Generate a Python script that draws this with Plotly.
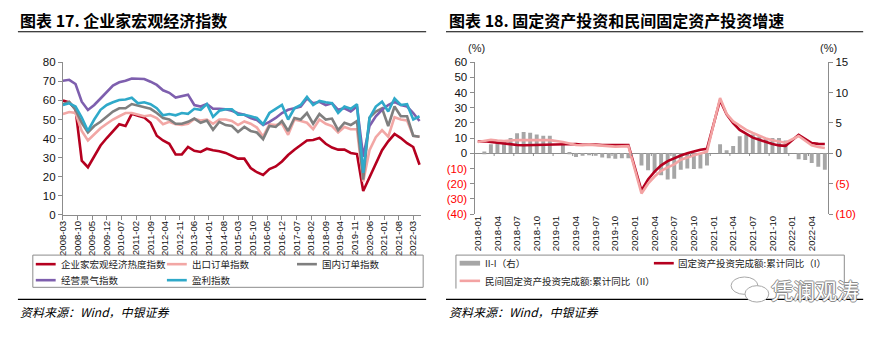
import plotly.graph_objects as go
import pandas as pd

W, H = 888, 337

# ---------------- Left chart: 企业家宏观经济指数 (quarterly) ----------------
quarters = pd.date_range("2008-03-01", "2022-06-01", freq="3MS").strftime("%Y-%m").tolist()

left_names = ["企业家宏观经济热度指数", "出口订单指数", "国内订单指数", "经营景气指数", "盈利指数"]

heat_index = [60, 59, 55.5, 28.5, 25, 30.5, 36.4, 40.3, 44, 47.5,
              46.6, 53, 52, 51, 48.3, 41.5, 39, 37.3, 31.7, 31.7,
              35.6, 33.6, 33, 34.7, 33.9, 33.4, 32.5, 30.8, 29.5, 29.5,
              24.6, 22.4, 21, 24, 25.4, 28, 31.4, 34.2, 36.4, 39,
              39.3, 40.3, 37.3, 35.3, 34.2, 34.2, 32.5, 31.9, 12.6, 19.5,
              27, 33.9, 38.6, 42.4, 40.3, 37.6, 35.6, 26.3]
export_orders = [52.9, 53.9, 53.4, 44, 39, 42.4, 45.4, 47.8, 50, 51.7,
                 53.4, 53.4, 52.5, 51.7, 52.2, 50.8, 47.5, 48.8, 47.5, 47.1,
                 47.8, 50.3, 49.5, 50, 47.8, 50, 50, 49.2, 47.1, 49,
                 47.8, 45.8, 41, 47.5, 47.1, 47.8, 42, 50, 49.2, 48.3,
                 44.9, 50, 47.8, 46.6, 43.2, 46.1, 44.9, 44.9, 17.5, 33.9,
                 40.7, 44.4, 41, 51.2, 50, 49.5, 41.5, 41]
domestic_orders = [58, 59.3, 55, 48.3, 43.2, 46.6, 48.8, 51.7, 54.2, 55.9,
                   55.9, 58.1, 57.3, 56.8, 55.6, 53.4, 50.8, 50, 47.8, 47.8,
                   48.8, 50.5, 48.3, 49.5, 44.6, 48.8, 47.1, 46.6, 43.5, 46.1,
                   44, 43.2, 39.7, 46.6, 46.1, 49.2, 44, 50.8, 50, 53.4,
                   47.8, 52.9, 50, 50.5, 44.4, 48.3, 47.1, 49.2, 18.5, 51,
                   54.2, 55.9, 46.6, 56.8, 51.7, 51.7, 41.5, 41]
business_climate = [70.3, 70.8, 68.6, 59.3, 55, 57.6, 61, 64.4, 67.8, 69.5,
                    70.3, 71.5, 71.5, 71.2, 69.8, 68.1, 65.3, 64, 61.5, 62.4,
                    63, 57.6, 56.8, 58.1, 55.6, 55.6, 55.4, 54.6, 53.3, 52.5,
                    50.8, 49.7, 47.1, 48.8, 50.8, 53.4, 55.1, 55.9, 56.8, 61,
                    58.5, 59.3, 57.6, 58.5, 55.1, 55.9, 54.2, 56.8, 30.5, 46.6,
                    51.7, 55.1, 57.6, 59.3, 57.6, 56.8, 53.4, 49.2]
profit_index = [57.6, 58.5, 56.8, 51, 44, 50, 55.1, 57.6, 59, 60.2,
                60.5, 61.4, 58.5, 59, 58, 55.9, 52.2, 52.9, 52.2, 53.4,
                53, 55.6, 55.1, 58.1, 51.4, 54.6, 55.4, 55.4, 52.5, 52.5,
                51.7, 50.8, 47.5, 53.4, 55.6, 57.6, 50, 55.9, 57.6, 61.9,
                57.6, 59.7, 59, 58.5, 53.4, 56.8, 55.6, 58, 22, 50.8,
                56.8, 59.3, 54.2, 61, 57.6, 58, 50, 51.7]

left_xticks = ["2008-03", "2008-10", "2009-05", "2009-12", "2010-07", "2011-02", "2011-09",
               "2012-04", "2012-11", "2013-06", "2014-01", "2014-08", "2015-03", "2015-10",
               "2016-05", "2016-12", "2017-07", "2018-02", "2018-09", "2019-04", "2019-11",
               "2020-06", "2021-01", "2021-08", "2022-03"]
left_yticks = [0, 10, 20, 30, 40, 50, 60, 70, 80]

# ---------------- Right chart: 固定资产投资 (monthly) ----------------
months = pd.date_range("2018-01-01", "2022-06-01", freq="MS").strftime("%Y-%m").tolist()

right_names = ["II-I（右）", "固定资产投资完成额:累计同比（I）", "民间固定资产投资完成额:累计同比（II）"]

fai_yoy = [7.7, 7.9, 7.5, 7.0, 6.1, 6.0, 5.5, 5.3, 5.4, 5.7, 5.9, 5.9,
           None, 6.1, 6.3, 6.1, 5.6, 5.8, 5.7, 5.5, 5.4, 5.2, 5.2, 5.4,
           None, -24.5, -17.2, -12.1, -7.9, -5.1, -3.2, -1.5, 0.0, 1.3, 2.3, 3.0,
           None, 35.0, 25.6, 19.9, 15.4, 12.6, 10.3, 8.9, 7.3, 6.1, 5.2, 4.9,
           None, 12.2, 9.3, 6.8, 6.2, 6.1]
private_yoy = [7.5, 8.1, 8.9, 8.4, 8.1, 8.4, 8.8, 8.7, 8.7, 8.7, 8.7, 8.7,
               None, 7.5, 6.4, 5.5, 5.3, 5.7, 5.4, 4.9, 4.7, 4.4, 4.5, 4.7,
               None, -26.5, -20.0, -15.3, -11.5, -9.3, -7.3, -4.2, -2.5, -1.3, -0.2, 1.0,
               None, 36.4, 26.0, 21.0, 18.1, 15.4, 13.4, 11.5, 9.8, 8.6, 7.7, 7.0,
               None, 11.4, 8.4, 5.3, 4.1, 3.5]
gap_ii_i = [None, 0.3, 1.5, 1.7, 2.0, 2.5, 3.3, 3.5, 3.4, 3.1, 2.9, 2.9,
            None, 1.5, 0.2, -0.6, -0.4, -0.2, -0.4, -0.7, -0.8, -0.9, -0.8, -0.8,
            None, -2.0, -2.8, -3.2, -3.6, -4.3, -4.2, -2.7, -2.5, -2.6, -2.5, -2.0,
            None, 1.5, 0.5, 1.2, 2.8, 3.1, 3.1, 2.8, 2.5, 2.5, 2.5, 2.1,
            None, -1.0, -1.1, -1.6, -2.2, -2.7]

right_xticks = ["2018-01", "2018-04", "2018-07", "2018-10", "2019-01", "2019-04", "2019-07",
                "2019-10", "2020-01", "2020-04", "2020-07", "2020-10", "2021-01", "2021-04",
                "2021-07", "2021-10", "2022-01", "2022-04"]
right_left_ticks = [-40, -30, -20, -10, 0, 10, 20, 30, 40, 50, 60]
right_right_ticks = [-10, -5, 0, 5, 10, 15]

# ---------------- styling ----------------
C_RED = "#B5001F"
C_PINK = "#F2A7A5"
C_GRAY = "#7F7F7F"
C_PURPLE = "#7E5FAE"
C_CYAN = "#2FA9C9"
C_BAR = "#A6A6A6"
C_PINK2 = "#F3A3A3"
AX = "#8C8C8C"
NEG = "#FF0000"

NUMFONT = "Liberation Sans Narrow, Arial Narrow, Liberation Sans, Arial, sans-serif"
CJK = "Noto Sans CJK SC, sans-serif"


def px(x):
    return x / W


def py(y):
    return 1 - y / H


def fmt_num(v):
    return "(%d)" % abs(v) if v < 0 else "%d" % v


def colored(v):
    t = fmt_num(v)
    return '<span style="color:%s">%s</span>' % (NEG, t) if v < 0 else t


fig = go.Figure()

left_series = [heat_index, export_orders, domestic_orders, business_climate, profit_index]
left_colors = [C_RED, C_PINK, C_GRAY, C_PURPLE, C_CYAN]
for name, vals, col in zip(left_names, left_series, left_colors):
    fig.add_trace(go.Scatter(x=quarters, y=vals, name=name, mode="lines",
                             line=dict(color=col, width=2.6), xaxis="x", yaxis="y",
                             showlegend=False, hoverinfo="skip"))

fig.add_trace(go.Bar(x=months, y=gap_ii_i, name=right_names[0], marker=dict(color=C_BAR, line_width=0),
                     xaxis="x2", yaxis="y2", showlegend=False, hoverinfo="skip"))
fig.add_trace(go.Scatter(x=months, y=fai_yoy, name=right_names[1], mode="lines", connectgaps=True,
                         line=dict(color=C_RED, width=2.6), xaxis="x2", yaxis="y3",
                         showlegend=False, hoverinfo="skip"))
fig.add_trace(go.Scatter(x=months, y=private_yoy, name=right_names[2], mode="lines", connectgaps=True,
                         line=dict(color=C_PINK2, width=2.6), xaxis="x2", yaxis="y3",
                         showlegend=False, hoverinfo="skip"))

tickfont_y = dict(family=NUMFONT, size=11.5, color="#111111")
tickfont_x = dict(family="Liberation Sans, Arial, sans-serif", size=9.6, color="#111111")

fig.update_layout(
    width=W, height=H,
    margin=dict(l=0, r=0, t=0, b=0),
    paper_bgcolor="white", plot_bgcolor="white",
    bargap=0.4,
    xaxis=dict(domain=[px(57.3), px(418)], anchor="y", type="date",
               range=["2008-03-01", "2022-06-25"],
               tickvals=left_xticks, ticktext=left_xticks, tickangle=-90,
               ticks="outside", ticklen=4, tickcolor=AX, showline=True, linecolor=AX,
               linewidth=1, showgrid=False, zeroline=False, tickfont=tickfont_x,
               ticklabelstandoff=-3),
    yaxis=dict(domain=[py(216.7), py(58.3)], anchor="x", range=[0, 80],
               tickvals=left_yticks, ticktext=[fmt_num(v) for v in left_yticks],
               ticks="outside", ticklen=4, tickcolor=AX, showline=True, linecolor=AX,
               linewidth=1, showgrid=False, zeroline=False, tickfont=tickfont_y),
    xaxis2=dict(domain=[px(471.7), px(827.7)], anchor="y2", type="category",
                range=[-0.5, len(months) - 0.5],
                tickvals=right_xticks, ticktext=right_xticks, tickangle=-90,
                ticks="", showline=False, showgrid=False, zeroline=False, tickfont=tickfont_x,
                ticklabelstandoff=-1),
    yaxis2=dict(domain=[py(215.7), py(58.3)], anchor="x2", side="right", range=[-10, 15],
                tickvals=right_right_ticks, ticktext=[colored(v) for v in right_right_ticks],
                ticks="outside", ticklen=4, tickcolor=AX, showline=True, linecolor=AX,
                linewidth=1, showgrid=False, zeroline=True, zerolinecolor=AX, zerolinewidth=1,
                tickfont=tickfont_y),
    yaxis3=dict(overlaying="y2", anchor="x2", side="left", range=[-40, 60],
                tickvals=right_left_ticks, ticktext=[colored(v) for v in right_left_ticks],
                ticks="outside", ticklen=4, tickcolor=AX, showline=True, linecolor=AX,
                linewidth=1, showgrid=False, zeroline=False, tickfont=tickfont_y),
)

shapes = []
annotations = []


def hline(x0, x1, y, color="black", width=1.2):
    shapes.append(dict(type="line", xref="paper", yref="paper", x0=px(x0), x1=px(x1),
                       y0=py(y), y1=py(y), line=dict(color=color, width=width)))


def vline(x, y0, y1, color=AX, width=1):
    shapes.append(dict(type="line", xref="paper", yref="paper", x0=px(x), x1=px(x),
                       y0=py(y0), y1=py(y1), line=dict(color=color, width=width)))


def text(x, y, s, size, color="black", family=CJK, xanchor="left", **kw):
    annotations.append(dict(x=px(x), y=py(y), xref="paper", yref="paper", xanchor=xanchor,
                            yanchor="middle", showarrow=False, text=s,
                            font=dict(family=family, size=size, color=color, **kw)))


# titles and rules
text(12, 14.5, "<b>图表 17. 企业家宏观经济指数</b>", 16)
text(444, 14.5, "<b>图表 18. 固定资产投资和民间固定资产投资增速</b>", 16)
hline(12, 423, 26.7)
hline(443, 863, 26.7)
hline(12, 423, 304.3)
hline(443, 863, 304.3)
text(12, 316.5, "<i>资料来源：Wind，中银证券</i>", 12, style="italic")
text(444, 316.5, "<i>资料来源：Wind，中银证券</i>", 12, style="italic")

# (%) units
text(473.5, 43.5, "(%)", 11, color="#222222", family=NUMFONT, xanchor="center")
text(828, 43.5, "(%)", 11, color="#222222", family=NUMFONT, xanchor="center")

# small ticks on the zero line of the right chart (between categories)
for lab in right_xticks[1:]:
    i = months.index(lab)
    shapes.append(dict(type="line", xref="x2", yref="y2", x0=i - 0.5, x1=i - 0.5, y0=0, y1=-0.45,
                       line=dict(color=AX, width=1)))

# left legend
shapes.append(dict(type="rect", xref="paper", yref="paper", x0=px(27), x1=px(420),
                   y0=py(291.7), y1=py(258.3), line=dict(color=AX, width=1)))
leg_pos = [(30, 267.7), (162, 267.7), (293, 267.7), (30, 284.3), (162, 284.3)]
for (lx, ly), name, col in zip(leg_pos, left_names, left_colors):
    hline(lx, lx + 20, ly, color=col, width=2.6)
    text(lx + 23, ly, name, 9.5, color="#222222")

# right legend (frame open at bottom)
hline(453, 844, 258.3, color=AX, width=1)
vline(453, 258.3, 293)
vline(844, 258.3, 292)
shapes.append(dict(type="rect", xref="paper", yref="paper", x0=px(456.7), x1=px(477.3),
                   y0=py(269.2), y1=py(264.2), fillcolor=C_BAR, line=dict(width=0)))
text(480, 266.7, right_names[0], 9.5, color="#222222")
hline(652.3, 672.3, 266.7, color=C_RED, width=2.6)
text(675, 266.7, right_names[1], 9.5, color="#222222")
hline(456.7, 477.3, 285, color=C_PINK2, width=2.6)
text(480, 285, right_names[2], 9.5, color="#222222")

# watermark
shapes.append(dict(type="circle", xref="paper", yref="paper", x0=px(730), x1=px(757),
                   y0=py(299), y1=py(281), line=dict(color="#A8A8A8", width=1), fillcolor="white"))
shapes.append(dict(type="circle", xref="paper", yref="paper", x0=px(744), x1=px(768),
                   y0=py(307), y1=py(290), line=dict(color="#A8A8A8", width=1), fillcolor="white"))
text(815, 293, "凭澜观涛", 22, color="white", xanchor="center",
     shadow="1px 0 0 #8a8a8a, -1px 0 0 #8a8a8a, 0 1px 0 #8a8a8a, 0 -1px 0 #8a8a8a")

fig.update_layout(shapes=shapes, annotations=annotations)
fig.write_html("out.html")
